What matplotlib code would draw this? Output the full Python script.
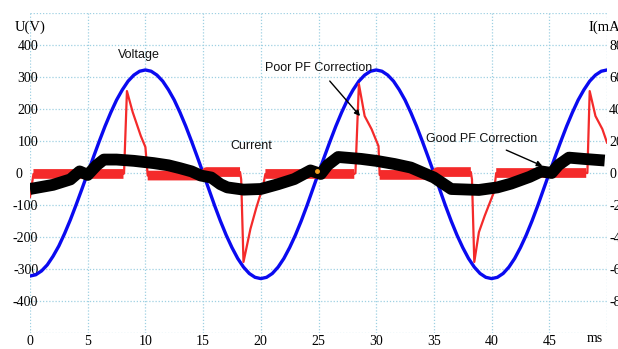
import numpy as np
import matplotlib
matplotlib.use("Agg")
import matplotlib.pyplot as plt
from matplotlib.transforms import ScaledTranslation

# ---------------- data ----------------
# Voltage trace, sampled every 0.5 ms from 0 to 50 ms (V)
volt_t = [i * 0.5 for i in range(101)]
volt_v = [-322, -318, -306, -287, -260, -228, -189, -146, -99, -50, 0, 50, 99, 146, 189, 228, 260, 287, 306, 318, 322,
          318, 306, 287, 260, 228, 189, 146, 99, 50, 0, -51, -102, -150, -194, -233, -267, -294, -314, -326, -330,
          -326, -314, -294, -267, -233, -194, -150, -102, -51, 0, 50, 99, 146, 189, 228, 260, 287, 306, 318, 322,
          318, 306, 287, 260, 228, 189, 146, 99, 50, 0, -51, -102, -150, -194, -233, -267, -294, -314, -326, -330,
          -326, -314, -294, -267, -233, -194, -150, -102, -51, 0, 50, 99, 146, 189, 228, 260, 287, 306, 318, 322]

# Poor PF current (red), in voltage-axis units
red_t = [0.0, 0.3, 8.1, 8.15, 8.4, 8.9, 9.6, 10.0, 10.2, 15.2, 15.3, 18.2,
         18.3, 18.5, 18.7, 19.1, 19.6, 20.2, 20.4, 28.1, 28.2, 28.5, 29.0, 29.6,
         30.2, 30.3, 35.2, 35.3, 38.2, 38.3, 38.5, 38.9, 39.4, 40.2, 40.4, 48.2,
         48.3, 48.5, 49.0, 49.6, 50.0]
red_v = [-75, -3, -3, 0, 256, 190, 116, 81, -8, -8, 3, 3,
         -20, -278, -244, -175, -110, -40, -3, -3, 0, 278, 178, 137,
         84, -6, -6, 3, 3, -20, -278, -185, -134, -60, 0, 0,
         0, 256, 178, 137, 95]

# noisy baseline band of the red trace
red_band_t = [0.3, 8.1, np.nan, 10.2, 15.2, 15.3, 18.2, np.nan, 20.4, 28.1, np.nan,
              30.3, 35.2, 35.3, 38.2, np.nan, 40.4, 48.2]
red_band_v = [-3, -3, np.nan, -8, -8, 3, 3, np.nan, -3, -3, np.nan,
              -6, -6, 3, 3, np.nan, 0, 0]

# Good PF current (black band centre)
blk_t = [0, 2, 3.5, 4.3, 5, 5.8, 6.4, 7.5, 9, 10.7, 12, 13, 14, 14.8, 15.7, 16.5, 17.1, 18.5, 20,
         21.5, 22.9, 24.3, 25.2, 25.8, 26.7, 28.7, 30, 31.6, 33, 35, 36.5, 38.9, 40.5, 41.7, 43.3,
         44.3, 45.2, 45.8, 46.7, 48, 49.8]
blk_v = [-50, -37, -20, 5, -6, 25, 42, 42, 38, 31, 24, 15, 5, -8, -14, -35, -45, -52, -50,
         -35, -19, 8, -3, 25, 50, 44, 38, 28, 17, -14, -50, -53, -45, -33, -12,
         5, 0, 25, 48, 44, 39]

x_ticks = [0, 5, 10, 15, 20, 25, 30, 35, 40, 45, 50]
x_labels = ["0", "5", "10", "15", "20", "25", "30", "35", "40", "45", ""]
u_ticks = [-500, -400, -300, -200, -100, 0, 100, 200, 300, 400, 500]
u_labels = ["", "-400", "-300", "-200", "-100", "0", "100", "200", "300", "400", ""]
i_ticks = [-80, -60, -40, -20, 0, 20, 40, 60, 80]
i_labels = ["-80", "-60", "-40", "-20", "0", "20", "40", "60", "80"]

# ---------------- figure ----------------
W, H = 618, 349
fig = plt.figure(figsize=(W / 100, H / 100), dpi=100)
L, R, B, T = 30, 607, 333, 13
ax = fig.add_axes([L / W, (H - B) / H, (R - L) / W, (B - T) / H])
ax.set_xlim(0, 50)
ax.set_ylim(-500, 500)

grid_c = "#9fd0e2"
ax.set_xticks(x_ticks)
ax.set_xticklabels(x_labels, family="Liberation Serif", fontsize=10)
ax.set_yticks(u_ticks)
ax.set_yticklabels(u_labels, family="Liberation Serif", fontsize=10)
ax.grid(True, color=grid_c, linestyle=(0, (1, 1.5)), linewidth=0.9)
ax.tick_params(axis="both", length=0)
ax.tick_params(axis="x", pad=1.5)
ax.tick_params(axis="y", pad=-6)
for s in ax.spines.values():
    s.set_visible(False)
# the "0" label sits further left in the reference
for lab in ax.get_yticklabels():
    if lab.get_text() == "0":
        lab.set_transform(lab.get_transform() + ScaledTranslation(-0.16, 0, fig.dpi_scale_trans))

ax.plot(volt_t, volt_v, color="#0a0af0", lw=2.4, zorder=3)
ax.plot(red_band_t, red_band_v, color="#f42a2a", lw=7, solid_capstyle="butt", zorder=4)
ax.plot(red_t, red_v, color="#f42a2a", lw=1.6, zorder=4)
ax.plot(blk_t, blk_v, color="black", lw=8.5, solid_joinstyle="round", solid_capstyle="butt", zorder=5)
ax.plot([24.9], [5], "o", color="#f0a020", ms=2.5, zorder=6)

tf = dict(family="Liberation Sans", fontsize=9, color="#111111")
ax.text(9.45, 369, "Voltage", ha="center", va="center", **tf)
ax.text(19.2, 84, "Current", ha="center", va="center", **tf)
ax.annotate("Poor PF Correction", xy=(28.6, 178), xytext=(25.0, 328), ha="center", va="center",
            arrowprops=dict(arrowstyle="-|>", color="black", lw=1.0, mutation_scale=8,
                            shrinkA=4, shrinkB=0), zorder=7, **tf)
ax.annotate("Good PF Correction", xy=(44.4, 22), xytext=(39.1, 106), ha="center", va="center",
            arrowprops=dict(arrowstyle="-|>", color="black", lw=1.0, mutation_scale=8,
                            shrinkA=4, shrinkB=0), zorder=7, **tf)

ax2 = ax.twinx()
ax2.set_ylim(-100, 100)
ax2.set_yticks(i_ticks)
ax2.set_yticklabels(i_labels, family="Liberation Serif", fontsize=10)
ax2.tick_params(axis="y", length=0, pad=1.5)
for s in ax2.spines.values():
    s.set_visible(False)

fig.text(15 / W, 1 - 27 / H, "U(V)", family="Liberation Serif", fontsize=10.5, va="center", ha="left")
fig.text(588 / W, 1 - 27 / H, "I(mA)", family="Liberation Serif", fontsize=10.5, va="center", ha="left")
fig.text(595 / W, 1 - 339 / H, "ms", family="Liberation Serif", fontsize=10, va="center", ha="center")

fig.savefig("out.png", dpi=100)
